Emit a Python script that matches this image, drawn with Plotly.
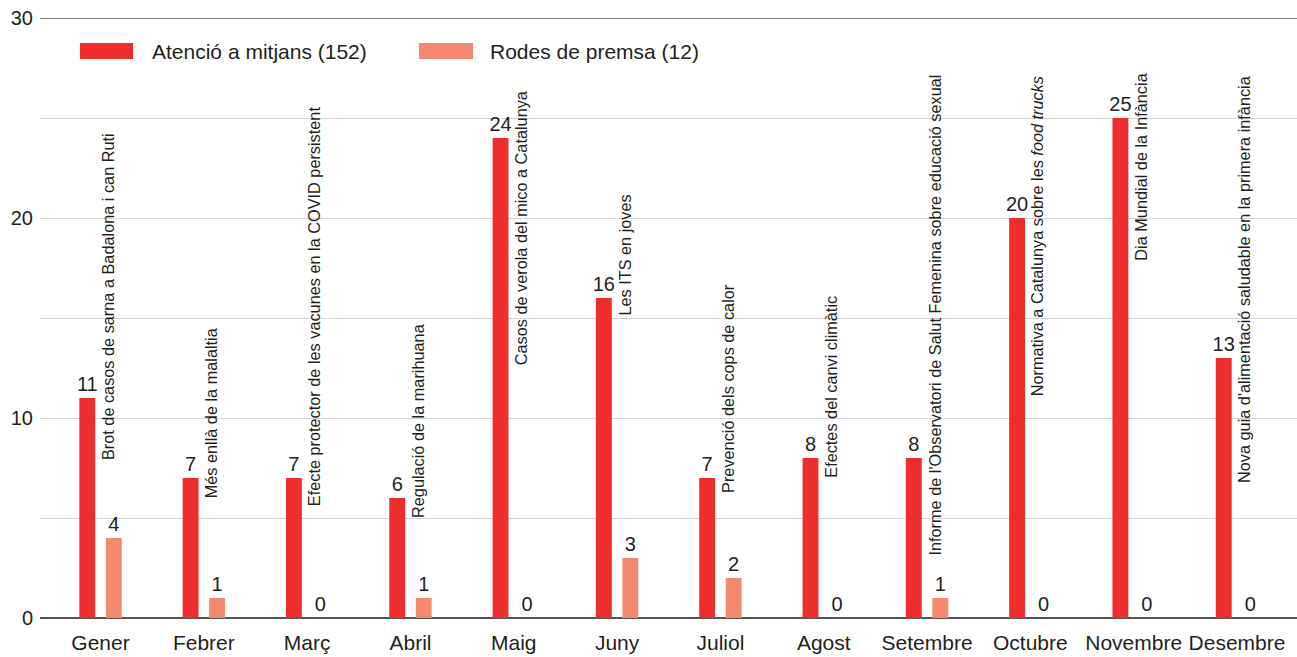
import plotly.graph_objects as go

# Dades mensuals
mesos = ["Gener", "Febrer", "Març", "Abril", "Maig", "Juny", "Juliol",
         "Agost", "Setembre", "Octubre", "Novembre", "Desembre"]
atencio_mitjans = [11, 7, 7, 6, 24, 16, 7, 8, 8, 20, 25, 13]
rodes_premsa = [4, 1, 0, 1, 0, 3, 2, 0, 1, 0, 0, 0]

# Tema destacat de cada mes
temes = [
    "Brot de casos de sarna a Badalona i can Ruti",
    "Més enllà de la malaltia",
    "Efecte protector de les vacunes en la COVID persistent",
    "Regulació de la marihuana",
    "Casos de verola del mico a Catalunya",
    "Les ITS en joves",
    "Prevenció dels cops de calor",
    "Efectes del canvi climàtic",
    "Informe de l'Observatori de Salut Femenina sobre educació sexual",
    "Normativa a Catalunya sobre les <i>food trucks</i>",
    "Dia Mundial de la Infància",
    "Nova guia d'alimentació saludable en la primera infància",
]
# Alçada (eix Y) on comença cada text vertical
inici_tema = [7.8, 5.9, 5.5, 4.9, 12.55, 15.0, 6.15, 6.9, 3.0, 11.0, 17.75, 6.65]

ticks_y = [0, 5, 10, 15, 20, 25, 30]
etiquetes_y = ["0", "", "10", "", "20", "", "30"]

VERMELL = "#EE2E2D"
SALMO = "#F38A6F"
TEXT = "#231F20"
FONT = "Liberation Sans, Arial, Helvetica, sans-serif"

fig = go.Figure()
fig.add_trace(go.Bar(
    x=mesos, y=atencio_mitjans, name="Atenció a mitjans (152)",
    marker=dict(color=VERMELL, line=dict(width=0)),
    text=atencio_mitjans, textposition="outside", constraintext="none",
    textfont=dict(size=20, color=TEXT, family=FONT), cliponaxis=False,
))
fig.add_trace(go.Bar(
    x=mesos, y=rodes_premsa, name="Rodes de premsa (12)",
    marker=dict(color=SALMO, line=dict(width=0)),
    text=rodes_premsa, textposition="outside", constraintext="none",
    textfont=dict(size=20, color=TEXT, family=FONT), cliponaxis=False,
))

for mes, tema, y0 in zip(mesos, temes, inici_tema):
    fig.add_annotation(
        x=mes, y=y0, xref="x", yref="y", text=tema, showarrow=False,
        textangle=-90, xanchor="center", yanchor="bottom", xshift=7,
        font=dict(size=16.3, color=TEXT, family=FONT),
    )

# Línia superior
fig.add_shape(type="line", xref="paper", yref="y", x0=0, x1=1, y0=30, y1=30,
              line=dict(color="#111111", width=1.2))

# Llegenda
llegenda = [
    (0.0318, 0.0740, 0.0875, VERMELL, "Atenció a mitjans (152)"),
    (0.3015, 0.3445, 0.3564, SALMO, "Rodes de premsa (12)"),
]
for xa, xb, xt, col, txt in llegenda:
    fig.add_shape(type="rect", xref="paper", yref="paper", x0=xa, x1=xb,
                  y0=0.9317, y1=0.9583, fillcolor=col, line=dict(width=0))
    fig.add_annotation(xref="paper", yref="paper", x=xt, y=0.945, text=txt,
                       showarrow=False, xanchor="left", yanchor="middle",
                       font=dict(size=21, color=TEXT, family=FONT))

fig.update_layout(
    width=1297, height=657,
    margin=dict(l=40, r=0, t=18, b=39),
    paper_bgcolor="white", plot_bgcolor="white",
    barmode="group", bargap=0.487, bargroupgap=0.4,
    showlegend=False,
    font=dict(family=FONT, color=TEXT, size=20),
    xaxis=dict(
        range=[-0.586, 11.581], showgrid=False, zeroline=False,
        showline=False, ticks="", ticklabelstandoff=10,
        tickfont=dict(size=21, color=TEXT, family=FONT),
    ),
    yaxis=dict(
        range=[0, 30], tickvals=ticks_y, ticktext=etiquetes_y,
        showgrid=True, gridcolor="#D4D4D4", gridwidth=1,
        zeroline=True, zerolinecolor="#555555", zerolinewidth=1.5,
        showline=False, ticks="", ticklabelstandoff=6,
        tickfont=dict(size=20, color=TEXT, family=FONT),
    ),
)

fig.write_html("out.html")
